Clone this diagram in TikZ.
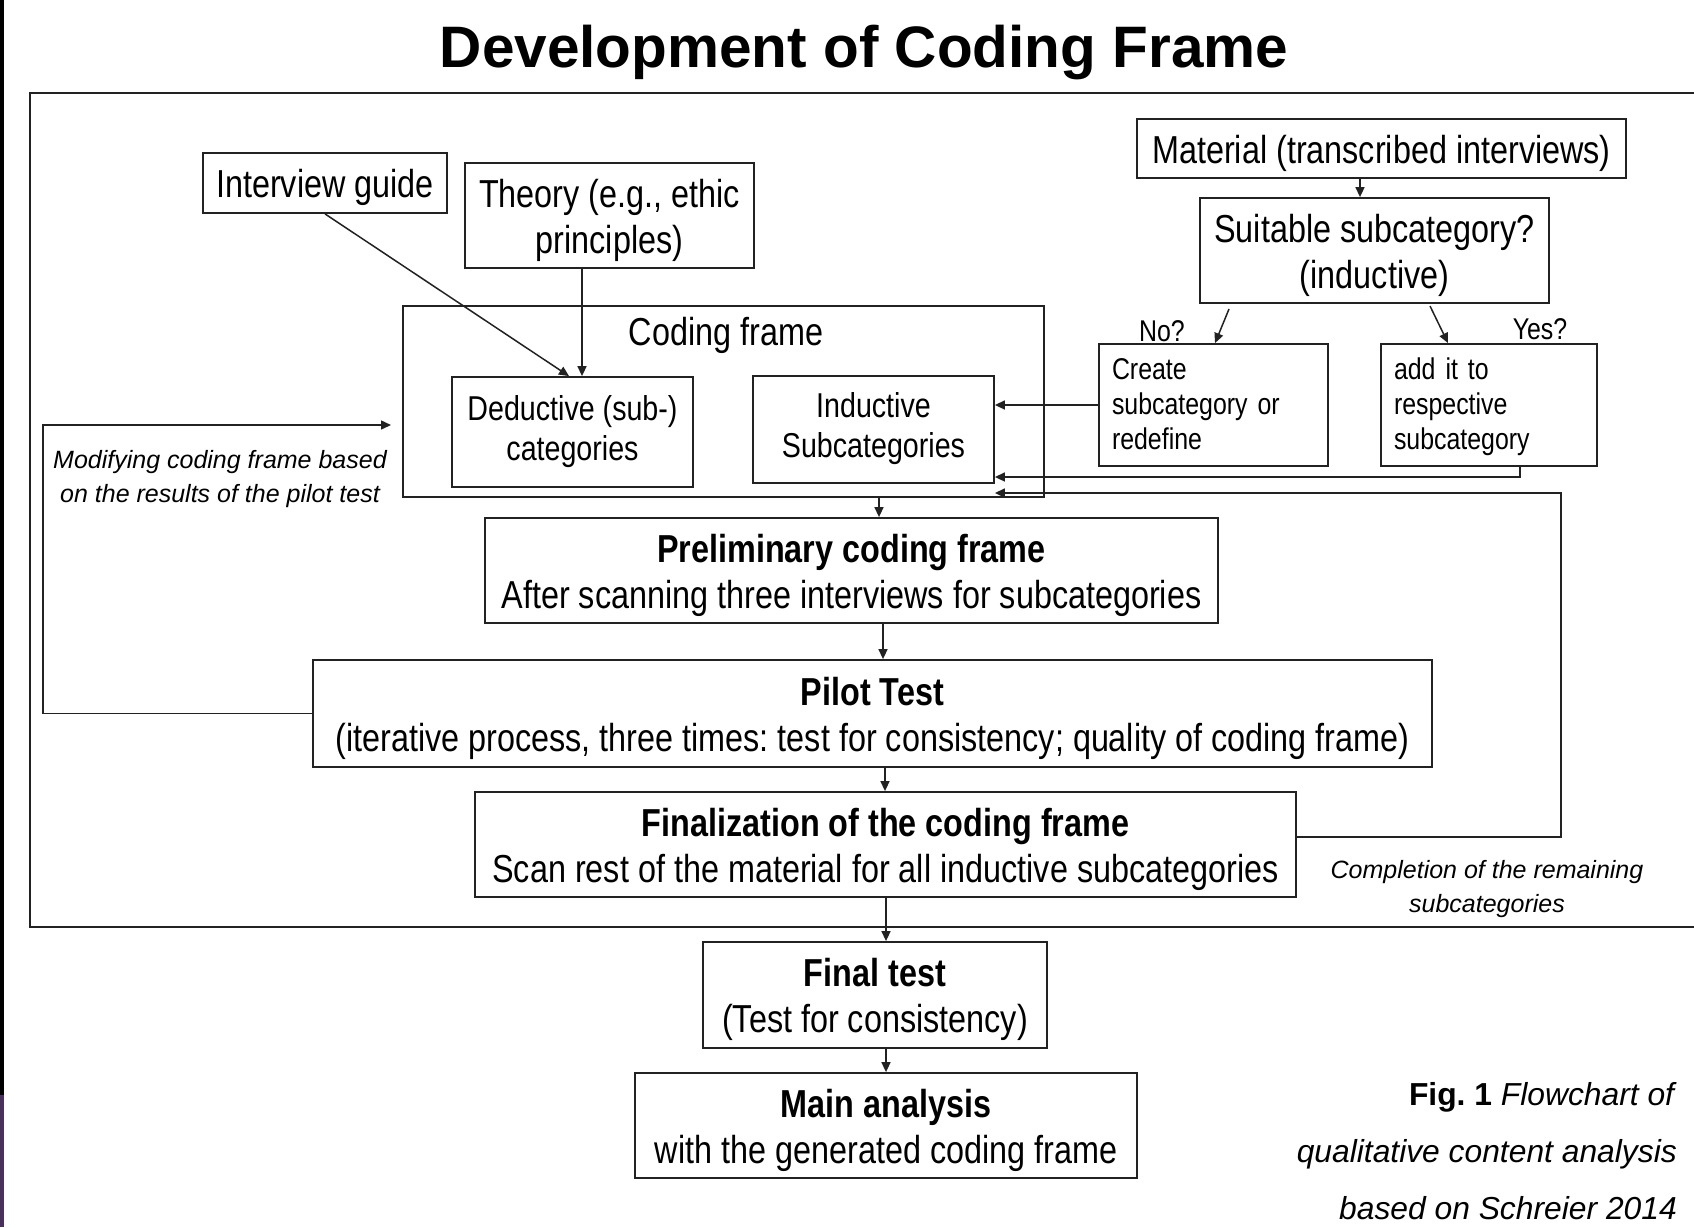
\documentclass[tikz,border=0pt]{standalone}
\usepackage{fontspec}
\setmainfont{Liberation Sans}[FakeStretch=0.83]
\newfontfamily\plainfont{Liberation Sans}
\usetikzlibrary{arrows.meta}
\definecolor{linec}{RGB}{34,34,34}
\definecolor{barpurple}{RGB}{72,50,92}
\frenchspacing
\newcommand\mainsz{\fontsize{39}{46}\selectfont}
\newcommand\dedsz{\fontsize{34.5}{40}\selectfont}
\newcommand\smallsz{\fontsize{30}{35}\selectfont}
\newcommand\notesz{\plainfont\itshape\fontsize{25}{34}\selectfont}
% centred lines, lowered by #1 without changing the box size
\newcommand\ctext[2][5.5pt]{\raisebox{-#1}[\height][\depth]{\begin{tabular}{@{}c@{}}#2\end{tabular}}}
\newcommand\ltext[2][2.5pt]{\raisebox{-#1}[\height][\depth]{\begin{tabular}{@{}l@{}}#2\end{tabular}}}
\tikzset{
  box/.style={draw=linec, line width=1.8pt, inner sep=0pt, font=\mainsz},
  smallbox/.style={draw=linec, line width=1.8pt, inner ysep=0pt, inner xsep=13pt, font=\smallsz},
  arr/.style={draw=linec, line width=1.5pt, -{Triangle[length=10pt,width=9pt]}},
  note/.style={inner sep=0pt, align=center, font=\notesz},
}
\begin{document}
\begin{tikzpicture}[x=1pt,y=-1pt]
\useasboundingbox (0,0) rectangle (1694,1227);
\fill[white] (0,0) rectangle (1694,1227);
\fill[black] (0,0) rectangle (4,1095);
\fill[barpurple] (0,1095) rectangle (4,1227);
% title
\node[anchor=base, inner sep=0pt, font=\plainfont\bfseries\fontsize{58.5}{60}\selectfont] (title) at (864,67) {Development of Coding Frame};
% outer frame (open at the right edge)
\draw[linec, line width=1.8pt] (1700,93) -- (30,93) -- (30,927) -- (1700,927);
% nodes
\node[box, minimum width=244, minimum height=60] (ig) at (325,183) {\ctext{Interview guide}};
\node[box, minimum width=289, minimum height=105] (theory) at (609.5,215.5) {\ctext{Theory (e.g., ethic\\principles)}};
\node[box, minimum width=641, minimum height=191] (cf) at (723.5,401.5) {};
\node[inner sep=0pt, font=\mainsz] (cflabel) at (726,335) {Coding frame};
\node[box, font=\dedsz, minimum width=241, minimum height=110] (ded) at (572.5,432) {\ctext[0pt]{Deductive (sub-)\\categories}};
\node[box, font=\dedsz, minimum width=241, minimum height=107] (ind) at (873.5,429.5) {\ctext[0pt]{Inductive\\Subcategories}};
\node[box, minimum width=489, minimum height=59] (mat) at (1381.5,148.5) {\ctext{Material (transcribed interviews)}};
\node[box, minimum width=349, minimum height=105] (suit) at (1374.5,250.5) {\ctext{Suitable subcategory?\\(inductive)}};
\node[smallbox, text width=203pt, minimum height=122] (create) at (1213.5,405) {\ltext{Create\\subcategory or\\redefine}};
\node[smallbox, text width=190pt, minimum height=122] (add) at (1489,405) {\ltext{add it to\\respective\\subcategory}};
\node[inner sep=0pt, font=\smallsz] (nolab) at (1162,331) {No?};
\node[inner sep=0pt, font=\smallsz] (yeslab) at (1540,329) {Yes?};
\node[box, minimum width=733, minimum height=105] (prelim) at (851.5,570.5) {\ctext{\textbf{Preliminary coding frame}\\After scanning three interviews for subcategories}};
\node[box, minimum width=1119, minimum height=107] (pilot) at (872.5,713.5) {\ctext{\textbf{Pilot Test}\\(iterative process, three times: test for consistency; quality of coding frame)}};
\node[box, minimum width=821, minimum height=105] (final) at (885.5,844.5) {\ctext{\textbf{Finalization of the coding frame}\\Scan rest of the material for all inductive subcategories}};
\node[box, minimum width=344, minimum height=106] (ftest) at (875,995) {\ctext{\textbf{Final test}\\(Test for consistency)}};
\node[box, minimum width=502, minimum height=105] (main) at (886,1125.5) {\ctext{\textbf{Main analysis}\\with the generated coding frame}};
% notes
\node[note] (modnote) at (220,479) {Modifying coding frame based\\on the results of the pilot test};
\node[note] (compnote) at (1487,889) {Completion of the remaining\\subcategories};
\node[inner sep=0pt, anchor=east, align=right, font=\plainfont\fontsize{31.8}{57}\selectfont] (caption) at (1677,1151) {\textbf{Fig. 1}\ \textit{Flowchart of}\\\textit{qualitative content analysis}\\\textit{based on Schreier 2014}};
% coordinates
\coordinate (nofrom) at (1229,309);
\coordinate (yesfrom) at (1430,306);
\coordinate (modtip) at (391,425);
% connectors
\draw[arr] (ig.south) -- (ded.north -| 569,0);
\draw[arr] (theory.south -| 582,0) -- (ded.north -| 582,0);
\draw[arr] (mat.south -| 1360,0) -- (suit.north -| 1360,0);
\draw[arr] (nofrom) -- (create.north -| 1215,0);
\draw[arr] (yesfrom) -- (add.north -| 1448,0);
\draw[arr] (create.west) -- (ind.east |- create.west);
\draw[arr] (add.south -| 1520,0) |- (ind.east |- 0,477);
\draw[arr] (final.east |- 0,837) -| (1561,493) -- (ind.east |- 0,493);
\draw[arr] (pilot.west) -| (43,425) -- (modtip);
\draw[arr] (cf.south -| 879,0) -- (prelim.north -| 879,0);
\draw[arr] (prelim.south -| 883,0) -- (pilot.north -| 883,0);
\draw[arr] (pilot.south -| 885,0) -- (final.north -| 885,0);
\draw[arr] (final.south -| 886,0) -- (ftest.north -| 886,0);
\draw[arr] (ftest.south -| 886,0) -- (main.north -| 886,0);
\end{tikzpicture}
\end{document}
